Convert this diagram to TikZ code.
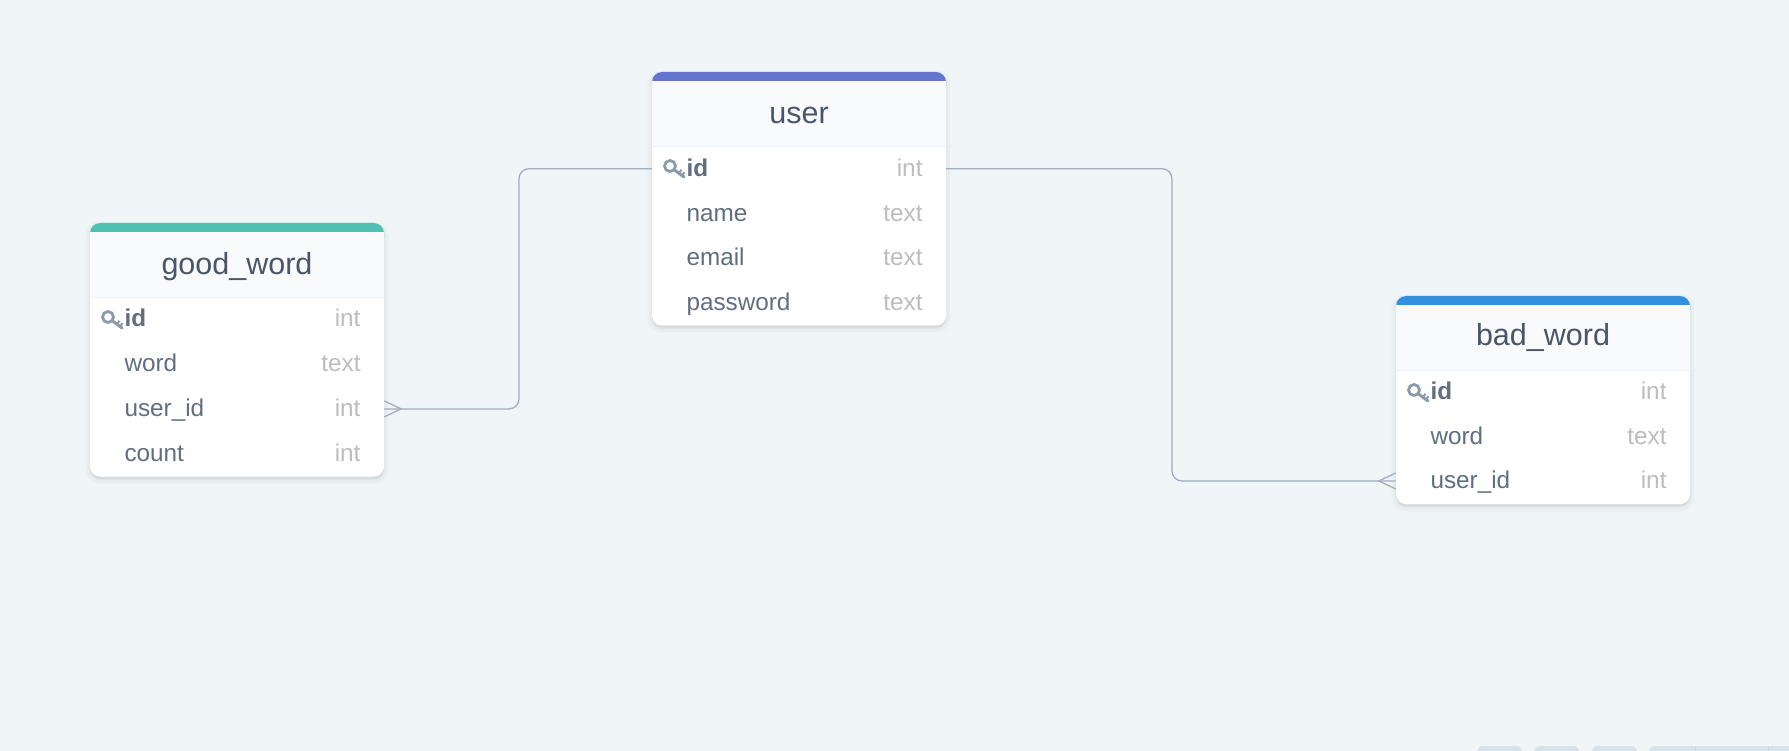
\documentclass[tikz,border=0pt]{standalone}
\usepackage{fontspec}
\setmainfont{Liberation Sans}
\usetikzlibrary{shadows}

\definecolor{pagebg}{HTML}{F0F5F8}
\definecolor{headbg}{HTML}{F8FAFC}
\definecolor{headline}{HTML}{EDF2F7}
\definecolor{titletext}{HTML}{4A5568}
\definecolor{fieldtext}{HTML}{5F6F80}
\definecolor{typetext}{HTML}{BDBDBD}
\definecolor{keygray}{HTML}{8A9BAA}
\definecolor{relgray}{HTML}{A0AEC0}
\definecolor{btngray}{HTML}{D8E2E8}
\definecolor{goodbar}{HTML}{4FC1B2}
\definecolor{userbar}{HTML}{6574CD}
\definecolor{badbar}{HTML}{3490DC}

\tikzset{
  tablebody/.style={rectangle, fill=white, minimum width=294pt, inner sep=0pt, rounded corners=10pt,
    general shadow={fill=black, draw=black, line width=10pt, opacity=.012, shadow yshift=-3pt},
    general shadow={fill=black, draw=black, line width=7pt, opacity=.018, shadow yshift=-3pt},
    general shadow={fill=black, draw=black, line width=3pt, opacity=.018, shadow yshift=-2pt}},
  topbar/.style={rectangle, minimum width=294pt, minimum height=24pt, inner sep=0pt, rounded corners=10pt, anchor=north},
  tablehead/.style={rectangle, fill=headbg, minimum width=294pt, minimum height=65pt, inner sep=0pt, anchor=north},
  headrule/.style={draw=headline, line width=1.5pt},
  title/.style={font=\fontsize{30.5}{34}\selectfont, text=titletext, inner sep=0pt, anchor=base},
  rowbox/.style={rectangle, minimum width=294pt, minimum height=44.7pt, inner sep=0pt},
  fieldname/.style={font=\fontsize{24.3}{28}\selectfont, text=fieldtext, inner sep=0pt, anchor=base west},
  fieldtype/.style={font=\fontsize{24.3}{28}\selectfont, text=typetext, inner sep=0pt, anchor=base east},
  relline/.style={draw=relgray, line width=1.3pt},
  btn/.style={rectangle, fill=btngray, rounded corners=6pt, minimum height=20pt, inner sep=0pt},
  keyicon/.pic={
    \draw[keygray, line width=2.8pt] (0,0) circle (5.5pt);
    \draw[keygray, line width=3pt, line cap=round] (3.9,3.5) -- (14,11);
    \draw[keygray, line width=2pt] (9,7.2) -- (11.5,3.8) (12,9.4) -- (14.5,6.2);
  }
}

\begin{document}
\begin{tikzpicture}[x=1pt, y=-1pt]
  \path[use as bounding box, fill=pagebg] (0,0) rectangle (1789,751);
  \clip (0,0) rectangle (1789,751);

  % buttons in the bottom corner
  \node[btn, minimum width=45pt] (zoomout) at (1499.5,756) {};
  \node[btn, minimum width=45pt] (zoomin) at (1556.5,756) {};
  \node[btn, minimum width=45pt] (fit) at (1614.5,756) {};
  \node[btn, minimum width=160pt] (pager) at (1729,756) {};
  \draw[draw=relgray!50, line width=1pt] (1695,746) -- (1695,751);
  \draw[draw=relgray!50, line width=1pt] (1768,746) -- (1768,751);

  % good_word
  \node[tablebody, minimum height=253.5pt] (good) at (237,349.75) {};
  \node[topbar, fill=goodbar] (goodtop) at (good.north) {};
  \node[tablehead] (goodhead) at (237,232) {};
  \draw[headrule] (goodhead.south west) -- (goodhead.south east);
  \node[title] (goodtitle) at (237,275) {good\_word};
  \foreach \name/\type [count=\i] in {\textbf{id}/int, word/text, user\_id/int, count/int} {
    \node[rowbox] (good-\i) at (237,{319.5+(\i-1)*44.7}) {};
    \node[fieldname] (good-\i-name) at ([xshift=34.5pt,yshift=-7.5pt]good-\i.west) {\name};
    \node[fieldtype] (good-\i-type) at ([xshift=-23.5pt,yshift=-7.5pt]good-\i.east) {\type};
  }
  \pic at (108,317) {keyicon};

  % user
  \node[tablebody, minimum height=253.5pt] (user) at (799,198.75) {};
  \node[topbar, fill=userbar] (usertop) at (user.north) {};
  \node[tablehead] (userhead) at (799,81) {};
  \draw[headrule] (userhead.south west) -- (userhead.south east);
  \node[title] (usertitle) at (799,123.5) {user};
  \foreach \name/\type [count=\i] in {\textbf{id}/int, name/text, email/text, password/text} {
    \node[rowbox] (user-\i) at (799,{168.7+(\i-1)*44.7}) {};
    \node[fieldname] (user-\i-name) at ([xshift=34.5pt,yshift=-7.8pt]user-\i.west) {\name};
    \node[fieldtype] (user-\i-type) at ([xshift=-23.5pt,yshift=-7.8pt]user-\i.east) {\type};
  }
  \pic at (670,166) {keyicon};

  % bad_word
  \node[tablebody, minimum height=208pt] (bad) at (1543,400) {};
  \node[topbar, fill=badbar] (badtop) at (bad.north) {};
  \node[tablehead] (badhead) at (1543,305) {};
  \draw[headrule] (badhead.south west) -- (badhead.south east);
  \node[title] (badtitle) at (1543,346) {bad\_word};
  \foreach \name/\type [count=\i] in {\textbf{id}/int, word/text, user\_id/int} {
    \node[rowbox] (bad-\i) at (1543,{391.6+(\i-1)*44.7}) {};
    \node[fieldname] (bad-\i-name) at ([xshift=34.5pt,yshift=-7.9pt]bad-\i.west) {\name};
    \node[fieldtype] (bad-\i-type) at ([xshift=-23.5pt,yshift=-7.9pt]bad-\i.east) {\type};
  }
  \pic at (1414,390) {keyicon};

  % relations
  \coordinate (bendleft) at (519,0);
  \coordinate (bendright) at (1172,0);
  \draw[relline, rounded corners=10pt] (user-1.west) -- (bendleft |- user-1.west) -- (bendleft |- good-3.east) -- (good-3.east);
  \draw[relline] ([yshift=8pt]good-3.east) -- ([xshift=17pt]good-3.east) -- ([yshift=-8pt]good-3.east);
  \draw[relline, rounded corners=10pt] (user-1.east) -- (bendright |- user-1.east) -- (bendright |- bad-3.west) -- (bad-3.west);
  \draw[relline] ([yshift=8pt]bad-3.west) -- ([xshift=-17pt]bad-3.west) -- ([yshift=-8pt]bad-3.west);
\end{tikzpicture}
\end{document}
